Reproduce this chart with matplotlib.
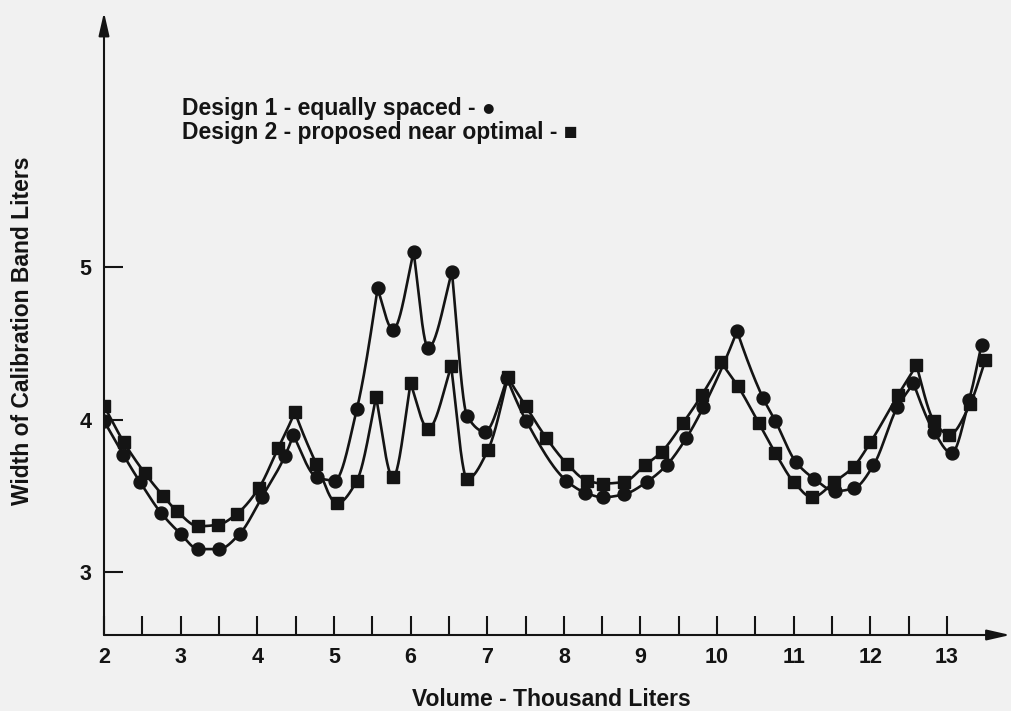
import numpy as np
import matplotlib
matplotlib.use("Agg")
import matplotlib.pyplot as plt

# ---------------- data ----------------
design1_x = [2.0, 2.25, 2.47, 2.74, 3.0, 3.23, 3.5, 3.77, 4.06, 4.36, 4.47, 4.78, 5.01,
             5.3, 5.57, 5.77, 6.04, 6.23, 6.54, 6.74, 6.97, 7.26, 7.51, 8.03, 8.28,
             8.51, 8.79, 9.08, 9.34, 9.6, 9.82, 10.26, 10.6, 10.76, 11.03, 11.27,
             11.54, 11.79, 12.04, 12.35, 12.56, 12.83, 13.06, 13.29, 13.45]
design1_y = [3.99, 3.77, 3.59, 3.39, 3.25, 3.15, 3.15, 3.25, 3.49, 3.76, 3.90, 3.62, 3.60,
             4.07, 4.86, 4.59, 5.10, 4.47, 4.97, 4.02, 3.92, 4.27, 3.99, 3.60, 3.52,
             3.49, 3.51, 3.59, 3.70, 3.88, 4.08, 4.58, 4.14, 3.99, 3.72, 3.61,
             3.53, 3.55, 3.70, 4.08, 4.24, 3.92, 3.78, 4.13, 4.49]

design2_x = [2.0, 2.26, 2.53, 2.77, 2.95, 3.23, 3.49, 3.73, 4.02, 4.27, 4.49, 4.77, 5.04,
             5.3, 5.55, 5.77, 6.0, 6.23, 6.53, 6.74, 7.01, 7.27, 7.5, 7.77, 8.04,
             8.3, 8.51, 8.78, 9.06, 9.28, 9.56, 9.8, 10.05, 10.27, 10.54, 10.76,
             11.0, 11.24, 11.53, 11.78, 12.0, 12.36, 12.6, 12.83, 13.03, 13.3, 13.5]
design2_y = [4.09, 3.85, 3.65, 3.50, 3.40, 3.30, 3.31, 3.38, 3.55, 3.81, 4.05, 3.71, 3.45,
             3.60, 4.15, 3.62, 4.24, 3.94, 4.35, 3.61, 3.80, 4.28, 4.09, 3.88, 3.71,
             3.60, 3.58, 3.59, 3.70, 3.79, 3.98, 4.16, 4.38, 4.22, 3.98, 3.78,
             3.59, 3.49, 3.59, 3.69, 3.85, 4.16, 4.36, 3.99, 3.90, 4.10, 4.39]

x_major = list(range(2, 14))
x_minor = [v + 0.5 for v in range(2, 13)]
y_major = [3, 4, 5]

label1 = "Design 1 - equally spaced - \u25CF"
label2 = "Design 2 - proposed near optimal - \u25A0"
xlabel = "Volume - Thousand Liters"
ylabel = "Width of Calibration Band Liters"


def smooth_curve(xs, ys, n=40):
    """Hermite curve through the points: rounded valleys, sharp cusps at peaks."""
    x = np.asarray(xs, float)
    y = np.asarray(ys, float)
    sec = np.diff(y) / np.diff(x)
    N = len(x)
    m_out = np.zeros(N)
    m_in = np.zeros(N)
    for i in range(N):
        if i == 0:
            m_out[i] = m_in[i] = sec[0]
        elif i == N - 1:
            m_out[i] = m_in[i] = sec[-1]
        elif y[i] > y[i - 1] and y[i] > y[i + 1]:
            m_in[i] = sec[i - 1] * 1.15
            m_out[i] = sec[i] * 1.15
        elif sec[i - 1] * sec[i] <= 0:
            m_in[i] = m_out[i] = 0.0
        else:
            a, b = sec[i - 1], sec[i]
            w1 = 2 * (x[i + 1] - x[i]) + (x[i] - x[i - 1])
            w2 = (x[i + 1] - x[i]) + 2 * (x[i] - x[i - 1])
            m = (w1 + w2) / (w1 / a + w2 / b)
            m_in[i] = m_out[i] = m
    px, py = [], []
    for i in range(N - 1):
        h = x[i + 1] - x[i]
        t = np.linspace(0, 1, n)
        h00 = 2 * t**3 - 3 * t**2 + 1
        h10 = t**3 - 2 * t**2 + t
        h01 = -2 * t**3 + 3 * t**2
        h11 = t**3 - t**2
        yy = h00 * y[i] + h10 * h * m_out[i] + h01 * y[i + 1] + h11 * h * m_in[i + 1]
        xx = x[i] + t * h
        px.extend(xx)
        py.extend(yy)
    return np.array(px), np.array(py)


K = "#141414"
BG = "#f1f1f1"
FONT = ["Liberation Sans", "DejaVu Sans"]
plt.rcParams["font.family"] = FONT

fig = plt.figure(figsize=(10.11, 7.11), dpi=100, facecolor=BG)
ax = fig.add_axes([104 / 1011, 76 / 711, 907 / 1011, 625 / 711])
ax.set_facecolor(BG)

x0, x1 = 2.0, 2.0 + 907 / 76.64
y0 = 3 - 63 / 152.5
y1 = y0 + 625 / 152.5
ax.set_xlim(x0, x1)
ax.set_ylim(y0, y1)

for s in ax.spines.values():
    s.set_visible(False)

# curves
cx, cy = smooth_curve(design1_x, design1_y)
ax.plot(cx, cy, color=K, lw=1.9, solid_capstyle="round", zorder=3)
ax.plot(design1_x, design1_y, "o", color=K, ms=9.3, zorder=4)

sx, sy = smooth_curve(design2_x, design2_y)
ax.plot(sx, sy, color=K, lw=1.9, solid_capstyle="round", zorder=3)
ax.plot(design2_x, design2_y, "s", color=K, ms=9, zorder=4)

# axes with arrows
arrow = dict(arrowstyle="-|>,head_length=1.4,head_width=0.32", lw=1.5, color=K,
             shrinkA=0, shrinkB=0)
ax.annotate("", xy=(x1 - 0.01, y0), xytext=(x0, y0), arrowprops=arrow,
            annotation_clip=False)
ax.annotate("", xy=(x0, y1 - 0.015), xytext=(x0, y0), arrowprops=arrow,
            annotation_clip=False)

# ticks
ax.set_xticks(x_major)
ax.set_xticks(x_minor, minor=True)
ax.set_yticks(y_major)
ax.set_xticklabels([str(v) for v in x_major])
ax.set_yticklabels([str(v) for v in y_major])
ax.tick_params(axis="both", which="both", direction="in", length=14, width=1.5,
               color=K, top=False, right=False)
ax.tick_params(axis="x", which="major", pad=8.5, labelsize=15.5, labelcolor=K)
ax.tick_params(axis="y", which="major", pad=9, labelsize=15.5, labelcolor=K)
for lab in ax.get_xticklabels() + ax.get_yticklabels():
    lab.set_fontweight("bold")

# labels
fig.text(551 / 1011, 1 - 699 / 711, xlabel, ha="center", va="center",
         fontsize=16.5, fontweight="bold", color=K)
fig.text(23 / 1011, 1 - 331 / 711, ylabel, ha="center", va="center",
         rotation=90, fontsize=16.5, fontweight="bold", color=K)

# legend text
fig.text(182 / 1011, 1 - 115 / 711, label1, ha="left", va="baseline",
         fontsize=16.5, fontweight="bold", color=K)
fig.text(182 / 1011, 1 - 139 / 711, label2, ha="left", va="baseline",
         fontsize=16.5, fontweight="bold", color=K)

fig.savefig("out.png", dpi=100, facecolor=BG)
